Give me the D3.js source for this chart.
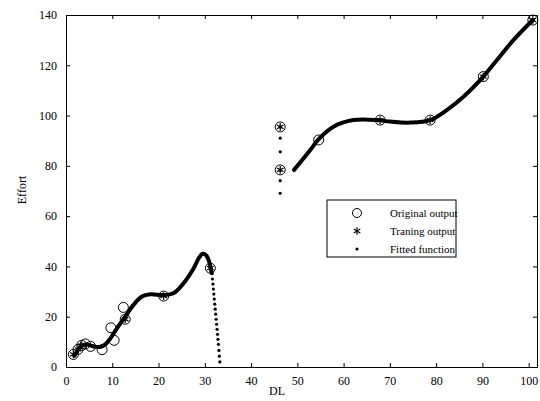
<!DOCTYPE html>
<meta charset="utf-8">
<script src="https://d3js.org/d3.v7.min.js"></script>
<style>
  body { margin: 0; background: #fff; }
  text { font-family: "Liberation Serif", "DejaVu Serif", serif; }
</style>
<div id="chart"></div>
<script>

// tick labels
var xTicks = [0, 10, 20, 30, 40, 50, 60, 70, 80, 90, 100];
var yTicks = [0, 20, 40, 60, 80, 100, 120, 140];

// original output (circles)
var originalX = [1.6, 2.6, 3.4, 4.2, 5.3, 7.8, 9.7, 10.4, 12.4, 12.8, 21.1, 31.2, 46.3, 46.3, 54.6, 67.9, 78.7, 90.2, 100.9];
var originalY = [5.0, 7.0, 8.6, 9.2, 8.2, 6.9, 15.6, 10.6, 23.7, 19.0, 28.2, 39.3, 95.5, 78.4, 90.3, 98.2, 98.2, 115.5, 138];

// training output (stars)
var trainX = [1.6, 2.6, 3.4, 12.8, 21.1, 31.2, 46.3, 46.3, 67.9, 78.7, 90.2, 100.9];
var trainY = [5.0, 7.0, 8.6, 19.0, 28.2, 39.3, 95.5, 78.4, 98.2, 98.2, 115.5, 138];

// fitted function, dense parts
var fitLeftX = [1.8, 2.5, 3.2, 4.2, 5.2, 6.5, 7.5, 8.5, 9.6, 11, 12.8, 14.6, 16.4, 18.2, 21.1, 23.2, 25.4, 27.6, 28.8, 29.6, 30.4, 31.0, 31.5];
var fitLeftY = [4.5, 6.5, 8.2, 9.0, 8.6, 8.0, 8.0, 9.0, 11.4, 15.4, 20, 24.7, 28, 28.9, 28.6, 29.3, 33.3, 39.3, 43.6, 45.0, 44.2, 41.5, 37.3];
var fitRightX = [49.3, 52.8, 54.6, 57.8, 62.1, 67.2, 70, 74.4, 78.7, 82.3, 85.9, 90.2, 93.1, 96.7, 100.9];
var fitRightY = [78.4, 86.3, 90.6, 95.6, 98.2, 98.2, 97.6, 97.2, 98.2, 102.2, 107.5, 115.5, 122, 130, 138];

// fitted function, sparse dots
var dotX = [31.65, 31.75, 31.85, 31.95, 32.05, 32.15, 32.25, 32.35, 32.45, 32.55, 32.65, 32.75, 32.85, 32.95, 33.05, 33.15, 33.25,
            46.3, 46.3, 46.3, 46.3, 46.3, 46.3];
var dotY = [35, 33, 31, 29, 27, 25, 23, 21, 19, 17, 15, 13, 11, 9, 6.6, 4.3, 2,
            95.5, 91, 85.6, 78.3, 74.1, 69.1];

var width = 540, height = 401;
var margin = {top: 15, right: 3, bottom: 34, left: 66};
var w = width - margin.left - margin.right,
    h = height - margin.top - margin.bottom;

var svg = d3.select("#chart").append("svg")
    .attr("width", width)
    .attr("height", height);

var g = svg.append("g")
    .attr("transform", "translate(" + margin.left + "," + margin.top + ")");

var x = d3.scaleLinear().domain([0, 101.8]).range([0, w]);
var y = d3.scaleLinear().domain([0, 140]).range([h, 0]);

// axes with inward ticks, MATLAB style box
g.append("g")
    .attr("transform", "translate(0," + h + ")")
    .call(d3.axisBottom(x).tickValues(xTicks).tickSize(-4).tickPadding(9));
g.append("g")
    .call(d3.axisLeft(y).tickValues(yTicks).tickSize(-4).tickPadding(9));
g.append("g")
    .call(d3.axisTop(x).tickValues(xTicks).tickSize(-4).tickFormat(""));
g.append("g")
    .attr("transform", "translate(" + w + ",0)")
    .call(d3.axisRight(y).tickValues(yTicks).tickSize(-4).tickFormat(""));

g.selectAll(".domain").attr("stroke", "#000").attr("stroke-width", 1);
g.selectAll(".tick line").attr("stroke", "#000");
g.selectAll(".tick text")
    .style("font-family", "Liberation Serif, serif")
    .style("font-size", "12px")
    .attr("fill", "#000");

// axis titles
svg.append("text")
    .attr("x", 277)
    .attr("y", 395)
    .attr("text-anchor", "middle")
    .style("font-size", "12px")
    .text("DL");
svg.append("text")
    .attr("transform", "translate(26," + 190 + ") rotate(-90)")
    .attr("text-anchor", "middle")
    .style("font-size", "12px")
    .text("Effort");

// fitted function: dense dots look like a thick line
var line = d3.line()
    .x(function(d) { return x(d[0]); })
    .y(function(d) { return y(d[1]); })
    .curve(d3.curveCatmullRom);

[d3.zip(fitLeftX, fitLeftY), d3.zip(fitRightX, fitRightY)].forEach(function(pts) {
  g.append("path")
    .datum(pts)
    .attr("d", line)
    .attr("fill", "none")
    .attr("stroke", "#000")
    .attr("stroke-width", 4)
    .attr("stroke-linecap", "round");
});

g.selectAll(".dot")
    .data(d3.zip(dotX, dotY))
    .enter().append("circle")
    .attr("cx", function(d) { return x(d[0]); })
    .attr("cy", function(d) { return y(d[1]); })
    .attr("r", 1.6)
    .attr("fill", "#000");

// asterisk symbol
var star = d3.symbol().type(d3.symbolAsterisk).size(40);

g.selectAll(".train")
    .data(d3.zip(trainX, trainY))
    .enter().append("path")
    .attr("d", star)
    .attr("transform", function(d) { return "translate(" + x(d[0]) + "," + y(d[1]) + ")"; })
    .attr("fill", "none")
    .attr("stroke", "#000")
    .attr("stroke-width", 1.2);

g.selectAll(".orig")
    .data(d3.zip(originalX, originalY))
    .enter().append("circle")
    .attr("cx", function(d) { return x(d[0]); })
    .attr("cy", function(d) { return y(d[1]); })
    .attr("r", 5)
    .attr("fill", "none")
    .attr("stroke", "#000")
    .attr("stroke-width", 1);

// legend
var legend = svg.append("g").attr("transform", "translate(327,200)");
legend.append("rect")
    .attr("width", 129).attr("height", 57)
    .attr("fill", "#fff").attr("stroke", "#000").attr("stroke-width", 1);

var labels = ["Original output", "Traning output", "Fitted function"];
labels.forEach(function(t, i) {
  var cy = 13 + i * 18;
  if (i === 0) {
    legend.append("circle").attr("cx", 30).attr("cy", cy).attr("r", 4.5)
      .attr("fill", "none").attr("stroke", "#000");
  } else if (i === 1) {
    legend.append("path").attr("d", star)
      .attr("transform", "translate(30," + cy + ")")
      .attr("fill", "none").attr("stroke", "#000").attr("stroke-width", 1.2);
  } else {
    legend.append("circle").attr("cx", 30).attr("cy", cy).attr("r", 1.6).attr("fill", "#000");
  }
  legend.append("text")
    .attr("x", 63).attr("y", cy + 4)
    .style("font-size", "11px")
    .text(t);
});

</script>
